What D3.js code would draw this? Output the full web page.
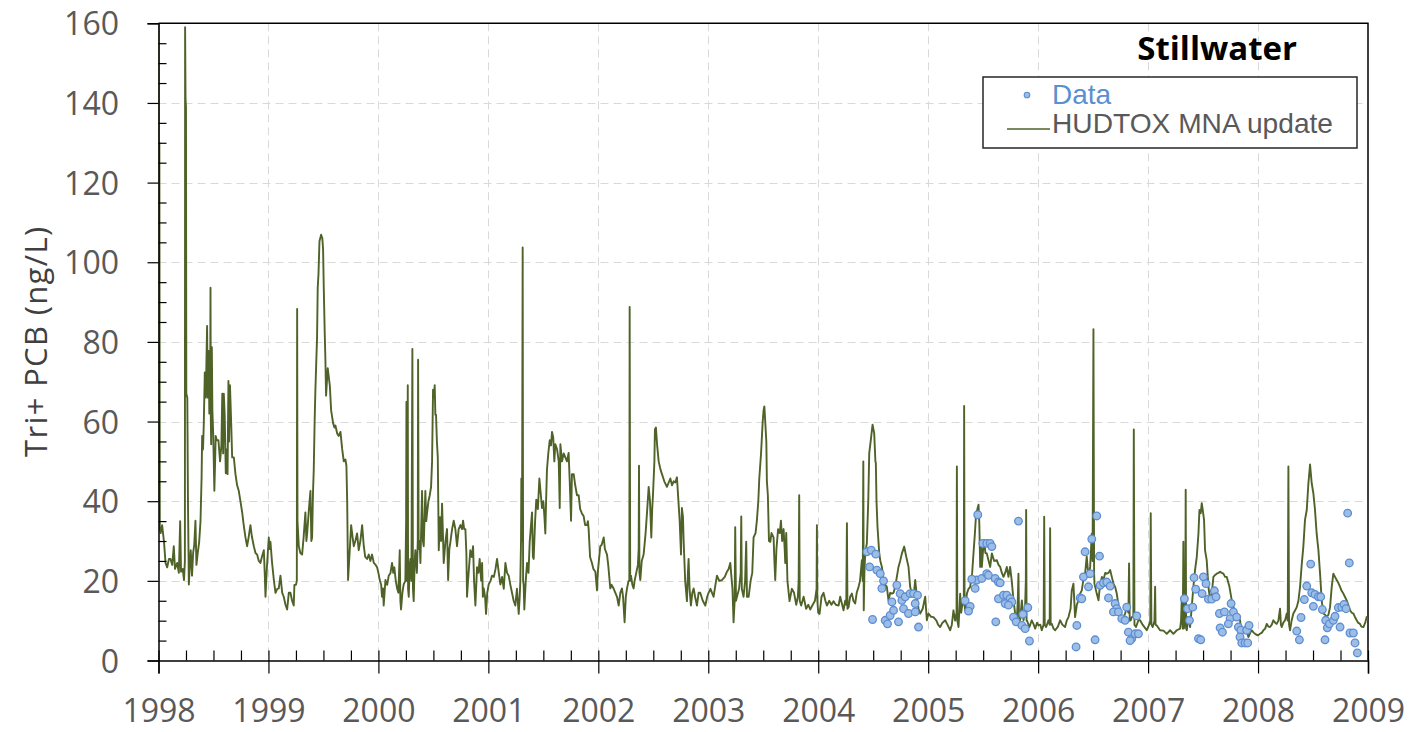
<!DOCTYPE html>
<html>
<head>
<meta charset="utf-8">
<title>Stillwater Tri+ PCB</title>
<script src="https://cdn.jsdelivr.net/npm/d3@7"></script>
<style>
  html, body { margin: 0; padding: 0; background: #ffffff; }
  svg { display: block; }
</style>
</head>
<body>
<svg id="chart" width="1414" height="732"></svg>
<script>
// ---- data -------------------------------------------------------------
const baseYear = 1998;
const stationName = "Stillwater";
const yTitle = "Tri+ PCB (ng/L)";
const seriesNames = ["Data", "HUDTOX MNA update"];
const yearTicks = [1998, 1999, 2000, 2001, 2002, 2003, 2004, 2005, 2006, 2007, 2008, 2009];
const valueTicks = [0, 20, 40, 60, 80, 100, 120, 140, 160];

// HUDTOX model output: [years since 1998, Tri+ PCB ng/L]
const hudtoxModel = [
  [0.000,175],[0.004,40],[0.008,130],[0.012,33],[0.020,32],[0.033,34],[0.050,29.8],[0.064,24.5],[0.079,23.4],[0.095,25.5],
  [0.109,25.5],[0.125,24],[0.139,28.7],[0.150,23],[0.170,24.5],[0.185,22],[0.197,35],[0.205,22.3],[0.220,23],[0.232,20.2],
  [0.240,25],[0.242,159],[0.246,141],[0.250,139],[0.253,67],[0.262,66],[0.268,40],[0.276,19.1],[0.285,24],[0.293,27.7],
  [0.305,21.3],[0.315,27],[0.325,29],[0.336,35.1],[0.345,24],[0.357,27],[0.370,29.8],[0.382,35],[0.392,46],[0.397,56.4],
  [0.405,53],[0.412,59.6],[0.421,72.3],[0.430,66],[0.438,78],[0.442,84],[0.448,66],[0.452,74],[0.457,77.7],[0.462,62],
  [0.470,70],[0.473,93.6],[0.476,60],[0.479,54.3],[0.485,78.7],[0.490,63],[0.498,56.4],[0.508,42.6],[0.515,50],[0.520,56.4],
  [0.530,55.3],[0.545,55.3],[0.560,50],[0.572,54],[0.580,67],[0.588,52],[0.594,67],[0.602,61.7],[0.612,47],[0.620,53],
  [0.628,46.8],[0.636,70.2],[0.642,55],[0.650,69.1],[0.660,60.6],[0.670,51],[0.685,51],[0.700,46.8],[0.715,44],[0.730,42.6],
  [0.745,40],[0.761,37.2],[0.775,34],[0.791,30.9],[0.806,28.7],[0.820,31],[0.836,34],[0.850,31],[0.867,28.7],[0.882,27],
  [0.897,26.6],[0.912,25],[0.927,24.5],[0.940,26],[0.958,27.7],[0.966,22],[0.973,16],[0.985,23],[1.003,30.9],[1.010,28],
  [1.018,29.8],[1.033,24.5],[1.050,20],[1.064,17],[1.080,18],[1.094,18.1],[1.109,21.3],[1.125,17],[1.139,16],[1.155,14],
  [1.170,12.8],[1.185,17],[1.200,17],[1.215,15],[1.230,13.8],[1.236,19],[1.250,19],[1.258,20],[1.261,88.3],[1.264,35],
  [1.270,31.9],[1.276,28.7],[1.290,27],[1.306,26.6],[1.320,31],[1.336,37.2],[1.345,30],[1.352,31.9],[1.368,38],[1.382,42.6],
  [1.390,30],[1.397,30.9],[1.405,42],[1.412,47.9],[1.420,60],[1.427,68],[1.436,76],[1.442,80.9],[1.448,93.6],[1.455,97],
  [1.464,105.3],[1.479,106.9],[1.490,106],[1.497,103.2],[1.503,93.6],[1.512,81.9],
  [1.518,75.5],[1.524,66.5],[1.539,73.4],[1.558,69.1],[1.570,62.8],[1.588,59.6],[1.600,58.5],[1.609,59],[1.625,57],[1.639,56.4],
  [1.655,57.4],[1.670,53.2],[1.685,50],[1.700,50.5],[1.709,48.9],[1.716,40],[1.724,20.2],[1.740,28],[1.752,34],[1.765,31],
  [1.776,28.7],[1.790,30],[1.806,31.9],[1.821,27.7],[1.836,30],[1.852,34],[1.867,28.7],[1.880,26],[1.897,25.5],[1.912,26.6],
  [1.927,25],[1.942,26.6],[1.958,24.5],[1.975,24],[1.988,23.4],[2.000,22],[2.012,20.2],[2.025,19],[2.033,16],[2.042,18.1],
  [2.048,13.8],[2.064,20.2],[2.080,19],[2.094,21.3],[2.110,22],[2.124,24.5],[2.135,22],[2.145,23.4],[2.158,20],[2.170,18.1],
  [2.182,17],[2.194,27.7],[2.200,14.9],[2.206,12.8],[2.218,17],[2.230,19.1],[2.245,20],[2.252,35],[2.255,64.9],[2.258,20],
  [2.264,30],[2.267,69.1],[2.270,18],[2.276,16],[2.285,24],[2.291,25.5],[2.300,20],[2.309,78.2],[2.314,18],[2.321,14.9],
  [2.330,25],[2.336,27.7],[2.350,22],[2.358,30],[2.361,75.5],[2.366,28],[2.375,30],[2.382,24.5],[2.397,42.6],[2.405,30],
  [2.412,28.7],[2.427,42.6],[2.435,35],[2.443,37.2],[2.455,40],[2.467,41.5],[2.479,43.6],[2.488,50],[2.497,68],[2.505,66],
  [2.512,69.1],[2.518,61.7],[2.524,61.7],[2.532,55],[2.540,51],[2.549,27.7],[2.560,36],[2.570,30],[2.579,39.4],[2.594,24.5],
  [2.610,30],[2.624,33],[2.634,20.2],[2.645,28],[2.655,29.8],[2.670,33],[2.685,35.1],[2.700,33],[2.715,28.7],[2.730,33],
  [2.746,34],[2.760,33],[2.770,35.1],[2.780,33],[2.791,33],[2.800,27],[2.806,16],[2.815,20],[2.836,27.7],[2.850,26],
  [2.861,28.7],[2.870,20],[2.882,13.8],[2.897,23.4],[2.910,22],[2.921,25.5],[2.935,20],[2.943,24.5],[2.950,16],[2.958,18.1],
  [2.970,16],[2.979,11.7],[2.990,17],[3.003,19.1],[3.020,20],[3.033,21.3],[3.050,21],[3.065,23],[3.079,25.5],[3.095,22],
  [3.109,19.1],
  [3.125,21],[3.140,18],[3.155,24.5],[3.170,22],[3.185,21.3],[3.200,19],[3.215,17],[3.230,15],[3.245,13.8],[3.260,18],
  [3.276,11.7],[3.285,16],[3.291,20.2],[3.297,30],[3.300,45.7],[3.306,30],[3.312,103.7],[3.316,20],[3.321,19],[3.327,12.8],
  [3.340,20],[3.352,24.5],[3.365,22],[3.376,29.8],[3.385,33],[3.397,37.2],[3.405,26],[3.412,25.5],[3.425,35],[3.436,40.4],
  [3.450,38],[3.464,45.7],[3.476,42],[3.488,38.3],[3.500,40],[3.510,36],[3.518,31.9],[3.525,40],[3.533,47.9],[3.545,52],
  [3.558,55.3],[3.570,54],[3.579,57.4],[3.590,56],[3.600,50],[3.609,54.3],[3.625,53],[3.640,50],[3.649,38.3],[3.655,54.3],
  [3.670,50],[3.685,52],[3.700,51],[3.715,50],[3.730,52.1],[3.740,45],[3.752,35.1],[3.760,46.8],[3.776,46.8],[3.790,44],
  [3.806,41.5],[3.821,41.5],[3.835,38],[3.850,37],[3.867,36.2],[3.880,34],[3.897,34],[3.905,35],[3.912,33],[3.925,26],
  [3.942,24.5],[3.955,23],[3.973,22.3],[3.988,17.6],[3.995,22],[4.005,25],[4.018,28.7],[4.030,29],[4.049,30.9],[4.060,28],
  [4.079,26.6],[4.090,24],[4.109,18.1],[4.120,19],[4.140,18],[4.155,17],[4.170,16],[4.185,13.8],[4.200,17],[4.215,18.1],
  [4.225,16],[4.239,9.6],[4.250,16],[4.261,18.1],[4.275,20],[4.282,20],[4.285,88.8],[4.290,20],[4.297,21.3],[4.310,19],
  [4.321,18.1],[4.330,20],[4.345,22],[4.360,24],[4.367,28],[4.370,48.9],[4.374,22],[4.382,20.2],[4.395,25],[4.412,26.6],
  [4.430,32],[4.445,38],[4.458,43.6],[4.470,40],[4.482,30.9],[4.490,38],[4.497,41.5],[4.510,50],[4.515,58],[4.524,58.5],
  [4.535,54],[4.549,50],[4.565,48],[4.579,46.8],[4.600,45],[4.624,43.6],
  [4.640,44.7],[4.655,45.7],[4.670,44],[4.685,45],[4.700,44.7],[4.715,46],[4.730,39.4],[4.740,35],[4.752,26.6],[4.760,38.3],
  [4.770,36],[4.776,30],[4.790,20],[4.806,14.9],[4.815,22],[4.821,25.5],[4.830,18],[4.842,13.8],[4.855,17],[4.867,18.1],
  [4.880,16],[4.897,13.8],[4.912,17],[4.927,17],[4.950,15],[4.973,13.8],[4.990,16],[5.003,17],[5.020,18],[5.048,16],
  [5.065,19],[5.079,21.3],[5.100,20],[5.124,20.2],[5.150,21],[5.170,22.3],[5.185,23],[5.200,24.5],[5.220,18],[5.230,9.6],
  [5.240,15],[5.245,33.5],[5.252,15],[5.261,16],[5.280,18],[5.295,22],[5.300,36.2],[5.305,18],[5.321,16],[5.335,20],
  [5.345,29.8],[5.352,16],[5.367,16],[5.385,20],[5.400,22],[5.412,30.9],[5.430,32],[5.442,35.1],[5.455,40],[5.464,45.7],
  [5.480,52],[5.495,60],[5.503,62.8],[5.510,63.8],[5.518,60],[5.528,55],[5.533,45],[5.542,41.5],[5.552,30],[5.564,29.8],
  [5.575,32],[5.594,30.9],[5.600,26],[5.609,20.2],[5.620,28],[5.635,33],[5.650,32],[5.661,35.1],[5.672,30],[5.685,33],
  [5.695,28],[5.700,24.5],[5.709,32],[5.720,20],[5.739,14.9],[5.760,18],[5.780,17],[5.800,14],[5.815,16],[5.822,20],
  [5.827,41.5],[5.832,15],[5.845,13.8],[5.867,16],[5.890,13],[5.910,14],[5.927,12.8],[5.950,14],[5.970,15],[5.985,18],
  [5.988,34],[5.992,15],[6.000,12],[6.012,11.7],[6.030,16],[6.048,17],[6.065,15],[6.079,13.8],[6.100,15],[6.120,14],
  [6.139,14.9],[6.160,14],[6.185,13.8],
  [6.200,16],[6.215,14.3],[6.230,12.6],[6.245,15],[6.255,14],[6.261,34.5],[6.266,13],[6.276,13.4],[6.290,16],[6.306,16.8],
  [6.320,15],[6.336,14.3],[6.350,17],[6.367,18.5],[6.380,20],[6.397,25.2],[6.405,20],[6.410,50],[6.414,12.6],[6.420,22],
  [6.427,26.9],[6.442,29.4],[6.455,40],[6.464,52.1],[6.479,55.5],[6.494,59.2],[6.509,57.1],[6.520,50],[6.524,49.6],[6.530,40],
  [6.539,33.6],[6.555,26.9],[6.565,25],[6.579,23.5],[6.594,20.2],[6.610,19],[6.624,18.5],[6.639,15.1],[6.655,17],[6.670,16.8],
  [6.685,17],[6.700,18.5],[6.715,21],[6.730,23.5],[6.745,25],[6.761,26.9],[6.782,28.6],[6.800,26.1],[6.821,23.5],[6.836,18.5],
  [6.850,17],[6.867,16],[6.882,20.2],[6.897,16],[6.912,13],[6.927,11.8],[6.950,13],[6.973,16],[6.988,10.1],[7.003,11.8],
  [7.025,11],[7.048,10.9],[7.075,10],[7.090,9],[7.109,8.4],[7.130,9.5],[7.155,10.1],[7.175,9],[7.200,7.6],[7.215,9],
  [7.230,12.6],[7.245,10],[7.258,12],[7.261,48.7],[7.265,10],[7.276,8.4],[7.291,16.8],[7.300,12],[7.315,15],[7.324,14],
  [7.327,63.9],[7.331,14],[7.336,12.6],[7.352,16.8],[7.367,18],[7.382,18.5],[7.400,22],[7.412,26.9],[7.425,32],[7.436,37],
  [7.447,38],[7.458,39.1],[7.465,34.5],[7.473,23.5],[7.480,30],[7.488,23.5],[7.500,28],[7.509,30.3],[7.520,27],[7.533,26.9],
  [7.550,25],[7.564,23.5],[7.579,26.9],[7.600,25],[7.624,25.2],[7.640,24],[7.655,23.5],[7.670,22],[7.685,21],[7.700,22],
  [7.715,23.5],
  [7.730,21],[7.745,23.5],[7.760,20],[7.776,15.1],[7.790,12],[7.806,10.1],[7.815,15],[7.821,21.8],[7.826,11],[7.836,10.1],
  [7.852,15.1],[7.867,10.1],[7.880,12],[7.888,20],[7.891,37.8],[7.895,10],[7.897,10.1],[7.921,8.4],[7.942,10.1],[7.960,9],
  [7.973,8],[7.990,9.5],[8.003,8.8],[8.020,9],[8.033,7.6],[8.050,9],[8.055,36.1],[8.060,9],[8.073,8.4],[8.094,10.1],
  [8.105,9],[8.109,33.2],[8.114,9],[8.124,9.2],[8.140,8],[8.155,7.6],[8.180,8.5],[8.200,10.1],[8.220,9],[8.245,8.4],
  [8.260,10],[8.276,10.9],[8.295,13],[8.306,17.6],[8.321,19.3],[8.336,10.9],[8.352,14],[8.367,15.1],[8.382,16.8],[8.397,17.6],
  [8.410,20],[8.427,21.8],[8.442,26.1],[8.458,21],[8.473,23.5],[8.488,31.9],[8.495,25],[8.503,83.2],[8.509,22],[8.512,19.3],
  [8.533,16.8],[8.549,15.1],[8.564,19.3],[8.580,21],[8.594,20.2],[8.610,22],[8.624,21.8],[8.640,22],[8.655,22.7],[8.670,21],
  [8.685,19.3],[8.700,18.5],[8.715,16.8],[8.730,14],[8.740,12.6],[8.761,10.1],[8.775,10.5],[8.791,11.8],[8.806,13.4],[8.821,12],
  [8.827,24.4],[8.833,10],[8.842,10.1],[8.852,10.9],[8.866,11],[8.870,58],[8.876,9],[8.890,8.4],[8.912,10.1],[8.927,10.1],
  [8.950,9],[8.988,7.6],[9.010,9],[9.020,10],[9.024,37],[9.030,9],[9.042,8.4],[9.058,10],[9.064,18.5],[9.068,9],
  [9.079,8.8],[9.109,7.6],[9.140,7.5],[9.170,6.7],[9.200,7.6],[9.230,6.7],[9.261,7.6],[9.291,8],
  [9.300,10],[9.306,15.1],[9.315,8],[9.321,29.8],[9.325,8],[9.327,8.4],[9.338,9],[9.342,42.9],[9.346,8],[9.352,7.6],
  [9.367,10.9],[9.382,8.4],[9.397,13.4],[9.412,18.5],[9.427,22.7],[9.443,26.1],[9.458,31.9],[9.467,37.8],[9.479,37],[9.488,39.5],
  [9.497,37.8],[9.509,35.3],[9.518,27.7],[9.533,25.2],[9.549,18.5],[9.564,15.1],[9.579,16.8],[9.594,21],[9.610,21.5],[9.624,21.8],
  [9.640,22],[9.655,22.3],[9.670,22],[9.685,21.8],[9.700,21],[9.715,21],[9.740,18.5],[9.761,15.1],[9.776,13.4],[9.790,12.5],
  [9.806,11.8],[9.820,11],[9.836,10.1],[9.852,6.7],[9.867,8],[9.882,8.4],[9.900,7],[9.912,5.9],[9.930,7],[9.943,7.6],
  [9.960,7],[9.973,6.7],[9.997,6.3],[10.018,6.7],[10.035,7],[10.049,7.6],[10.065,8],[10.079,9.2],[10.095,8.5],[10.109,8.4],
  [10.125,9],[10.139,10.1],[10.155,9.5],[10.170,9.2],[10.185,10],[10.200,13],[10.208,9],[10.215,8.4],[10.230,9.5],[10.246,10.1],
  [10.261,11.8],[10.270,10],[10.276,48.7],[10.282,9],[10.291,7.6],[10.305,10],[10.321,11.8],[10.335,12.5],[10.352,13.4],[10.367,15],
  [10.382,18.5],[10.397,24],[10.412,28.6],[10.427,35.3],[10.443,37.8],[10.458,44.5],[10.473,49.2],[10.480,47],[10.488,44.5],[10.503,42],
  [10.518,37.8],[10.533,31.9],[10.549,27.7],[10.564,21.8],[10.579,15.1],[10.594,11.8],[10.610,11.5],[10.624,10.9],[10.640,11.5],[10.655,13.4],
  [10.670,18.5],[10.685,21.8],[10.700,21],[10.715,20.2],[10.730,19.5],[10.746,18.5],[10.760,17.5],[10.776,16.8],[10.790,16],[10.806,15.1],
  [10.820,14],[10.837,12.6],[10.852,12],[10.867,11.8],[10.880,11],[10.897,10.1],[10.910,9.5],[10.927,9.2],[10.940,8.5],[10.958,8.4],
  [10.975,9.5],[10.988,10.9],[11.003,10]
];

// Sampled concentrations: [years since 1998, Tri+ PCB ng/L]
const observed = [
  [6.442,27.3],[6.482,27.7],[6.524,26.7],[6.467,23.5],[6.533,22.7],[6.564,21.8],[6.594,20],[6.579,18.1],[6.715,18.9],[6.494,10.3],
  [6.609,10.1],[6.630,9.2],[6.654,11.3],[6.685,12.6],[6.670,14.7],[6.730,9.7],[6.761,15.1],[6.745,16.8],[6.791,16],[6.836,16.8],
  [6.776,13],[6.821,11.8],[6.882,14.3],[6.867,16.8],[6.903,16.4],[6.882,12.2],[6.912,8.4],
  [7.451,36.6],[7.497,29.4],[7.533,29.4],[7.564,29.4],[7.579,28.6],[7.442,20.2],[7.397,20.4],[7.488,20.6],[7.533,21.8],[7.548,21.4],
  [7.609,20.6],[7.639,19.7],[7.427,18.1],[7.336,15],[7.382,13.6],[7.367,12.4],[7.615,9.7],[7.639,15.5],
  [7.821,35],[7.655,19.5],[7.685,16.4],[7.715,16.4],[7.745,15.5],[7.761,14.7],[7.700,14.3],[7.730,13.9],[7.776,10.9],[7.800,9.7],
  [7.852,8.8],[7.882,8],[7.861,11.6],[7.906,13.3],[7.921,4.9],
  [8.352,8.8],[8.345,3.4],[8.382,15.7],[8.397,15.5],[8.412,21],[8.473,21.8],[8.458,18.5],[8.427,27.3],[8.488,30.5],[8.533,36.3],
  [8.558,26.2],[8.518,5.2],[8.564,18.9],[8.594,19.5],[8.624,19.7],[8.655,18.7],[8.640,15.7],[8.700,14.3],[8.715,13],[8.685,12.2],
  [8.730,12.2],[8.761,10.5],[8.791,10.1],[8.806,13.4],[8.821,7.1],[8.852,5.5],[8.836,5],[8.882,6.7],[8.912,6.7],[8.897,11.2],
  [9.330,15.5],[9.358,13],[9.406,13.4],[9.376,10.1],[9.418,20.8],[9.433,17.9],[9.458,5.5],[9.479,5.2],[9.503,21],[9.527,19.3],
  [9.491,16.8],[9.549,15.4],[9.579,15.4],[9.603,17.5],[9.618,16],[9.649,11.8],[9.694,12.2],[9.655,8.2],[9.676,7.1],[9.755,14.3],
  [9.776,12.2],[9.746,10.5],[9.730,9.2],[9.806,10.9],[9.821,8.4],[9.843,7.6],[9.836,5.9],[9.852,4.4],[9.882,4.4],[9.906,4.4],
  [9.897,7.6],[9.918,8.8],
  [10.352,7.4],[10.376,5.2],[10.391,10.8],[10.421,15.3],[10.443,18.7],[10.479,24.2],[10.488,17],[10.518,16.6],[10.549,16],[10.570,16],
  [10.503,13.6],[10.585,12.8],[10.615,10.1],[10.630,8.2],[10.649,9.2],[10.685,10.1],[10.700,11.1],[10.730,13.3],[10.761,13.4],[10.782,14.1],
  [10.800,13],[10.746,8.4],[10.609,5.2],[10.815,37],[10.830,24.5],[10.836,6.9],[10.867,6.9],[10.882,4.4],[10.903,1.9]
];

// ---- layout -----------------------------------------------------------
const W = 1414, H = 732;
const plot = { left: 158.5, right: 1368, top: 23.3, bottom: 660.5 };
const lineColor = "#4f6228";
const dotFill = "#9dbde6";
const dotStroke = "#5b8ed2";
const labelColor = "#595959";
const tickFont = "'Open Sans', 'Noto Sans', sans-serif";

const svg = d3.select("#chart");
svg.append("rect").attr("width", W).attr("height", H).attr("fill", "#ffffff");

const x = d3.scaleLinear().domain([yearTicks[0], yearTicks[yearTicks.length - 1]]).range([plot.left, plot.right]);
const y = d3.scaleLinear().domain([0, valueTicks[valueTicks.length - 1]]).range([plot.bottom, plot.top]);

// clip region for the series
svg.append("defs").append("clipPath").attr("id", "plot-clip")
  .append("rect")
  .attr("x", plot.left).attr("y", plot.top)
  .attr("width", plot.right - plot.left).attr("height", plot.bottom - plot.top);

// ---- gridlines --------------------------------------------------------
const grid = svg.append("g").attr("stroke", "#d9d9d9").attr("stroke-width", 1)
  .attr("stroke-dasharray", "8,5").attr("fill", "none");
grid.selectAll("line.h").data(valueTicks.filter(v => v > 0 && v < 160)).join("line")
  .attr("class", "h")
  .attr("x1", plot.left).attr("x2", plot.right)
  .attr("y1", d => Math.round(y(d)) + 0.5).attr("y2", d => Math.round(y(d)) + 0.5);
grid.selectAll("line.v").data(yearTicks.slice(1, -1)).join("line")
  .attr("class", "v")
  .attr("y1", plot.top).attr("y2", plot.bottom)
  .attr("x1", d => Math.round(x(d)) + 0.5).attr("x2", d => Math.round(x(d)) + 0.5);

// frame: top and right edges
svg.append("path")
  .attr("d", `M${plot.left},${plot.top}H${plot.right}V${plot.bottom}`)
  .attr("fill", "none").attr("stroke", "#000").attr("stroke-width", 1.5);

// ---- series -----------------------------------------------------------
const line = d3.line()
  .x(d => x(baseYear + d[0]))
  .y(d => y(d[1]));

const modelSorted = hudtoxModel.slice().sort((a, b) => a[0] - b[0]);

svg.append("g").attr("clip-path", "url(#plot-clip)")
  .append("path")
  .datum(modelSorted)
  .attr("d", line)
  .attr("fill", "none")
  .attr("stroke", lineColor)
  .attr("stroke-width", 1.9)
  .attr("stroke-linejoin", "round");

svg.append("g").attr("clip-path", "url(#plot-clip)")
  .selectAll("circle").data(observed).join("circle")
  .attr("cx", d => x(baseYear + d[0]))
  .attr("cy", d => y(d[1]))
  .attr("r", 3.8)
  .attr("fill", dotFill)
  .attr("stroke", dotStroke)
  .attr("stroke-width", 1.3);

// ---- axes -------------------------------------------------------------
// y axis: major ticks outside with labels, minor ticks inside
const yAxis = svg.append("g").attr("transform", `translate(${plot.left},0)`)
  .call(d3.axisLeft(y).tickValues(valueTicks).tickSize(11).tickFormat(d3.format("d")));
yAxis.select(".domain").attr("stroke", "#000").attr("stroke-width", 1.5);
yAxis.selectAll(".tick line").attr("stroke", "#000").attr("stroke-width", 1.2);
yAxis.selectAll(".tick text")
  .attr("x", 119 - plot.left).attr("dy", "0.36em")
  .attr("fill", labelColor)
  .style("font-family", tickFont).style("font-size", "32px");

const minorValues = d3.range(5, 160, 5).filter(v => v % 20 !== 0);
const yMinor = svg.append("g").attr("transform", `translate(${plot.left},0)`)
  .call(d3.axisRight(y).tickValues(minorValues).tickSize(8).tickFormat(""));
yMinor.select(".domain").remove();
yMinor.selectAll(".tick line").attr("stroke", "#000").attr("stroke-width", 1.2);

// x axis: major ticks crossing the axis with labels, quarter ticks inside
const xAxis = svg.append("g").attr("transform", `translate(0,${plot.bottom})`)
  .call(d3.axisBottom(x).tickValues(yearTicks).tickSize(13).tickFormat(d3.format("d")));
xAxis.select(".domain").attr("stroke", "#000").attr("stroke-width", 1.5);
xAxis.selectAll(".tick line").attr("y1", -10).attr("stroke", "#000").attr("stroke-width", 1.2);
xAxis.selectAll(".tick text")
  .attr("y", 722 - plot.bottom).attr("dy", 0)
  .attr("fill", labelColor)
  .style("font-family", tickFont).style("font-size", "32px");

const quarterValues = d3.range(yearTicks[0], yearTicks[yearTicks.length - 1], 0.25).filter(v => v % 1 !== 0);
const xMinor = svg.append("g").attr("transform", `translate(0,${plot.bottom})`)
  .call(d3.axisTop(x).tickValues(quarterValues).tickSize(10).tickFormat(""));
xMinor.select(".domain").remove();
xMinor.selectAll(".tick line").attr("stroke", "#000").attr("stroke-width", 1.2);

// axis title
svg.append("text")
  .attr("transform", `translate(47,${(plot.top + plot.bottom) / 2}) rotate(-90)`)
  .attr("text-anchor", "middle")
  .attr("fill", "#404040")
  .attr("textLength", 230).attr("lengthAdjust", "spacing")
  .style("font-family", tickFont).style("font-size", "31px")
  .text(yTitle);

// ---- title and legend -------------------------------------------------
svg.append("text")
  .attr("x", 1297).attr("y", 60)
  .attr("text-anchor", "end")
  .attr("fill", "#000")
  .style("font-family", tickFont).style("font-weight", "700").style("font-size", "33px")
  .text(stationName);

const legend = svg.append("g");
legend.append("rect")
  .attr("x", 983).attr("y", 77).attr("width", 374).attr("height", 71)
  .attr("fill", "#ffffff").attr("stroke", "#262626").attr("stroke-width", 1.5);
legend.append("circle")
  .attr("cx", 1027).attr("cy", 95).attr("r", 2.8)
  .attr("fill", dotFill).attr("stroke", dotStroke).attr("stroke-width", 1.1);
legend.append("text")
  .attr("x", 1052).attr("y", 104)
  .attr("fill", "#5a8fd2")
  .style("font-family", "'Liberation Sans', Arial, sans-serif").style("font-size", "28px")
  .text(seriesNames[0]);
legend.append("line")
  .attr("x1", 1007).attr("x2", 1050).attr("y1", 129).attr("y2", 129)
  .attr("stroke", lineColor).attr("stroke-width", 1.6);
legend.append("text")
  .attr("x", 1052).attr("y", 133)
  .attr("fill", labelColor)
  .attr("textLength", 281).attr("lengthAdjust", "spacingAndGlyphs")
  .style("font-family", "'Liberation Sans', Arial, sans-serif").style("font-size", "28px")
  .text(seriesNames[1]);
</script>
</body>
</html>
